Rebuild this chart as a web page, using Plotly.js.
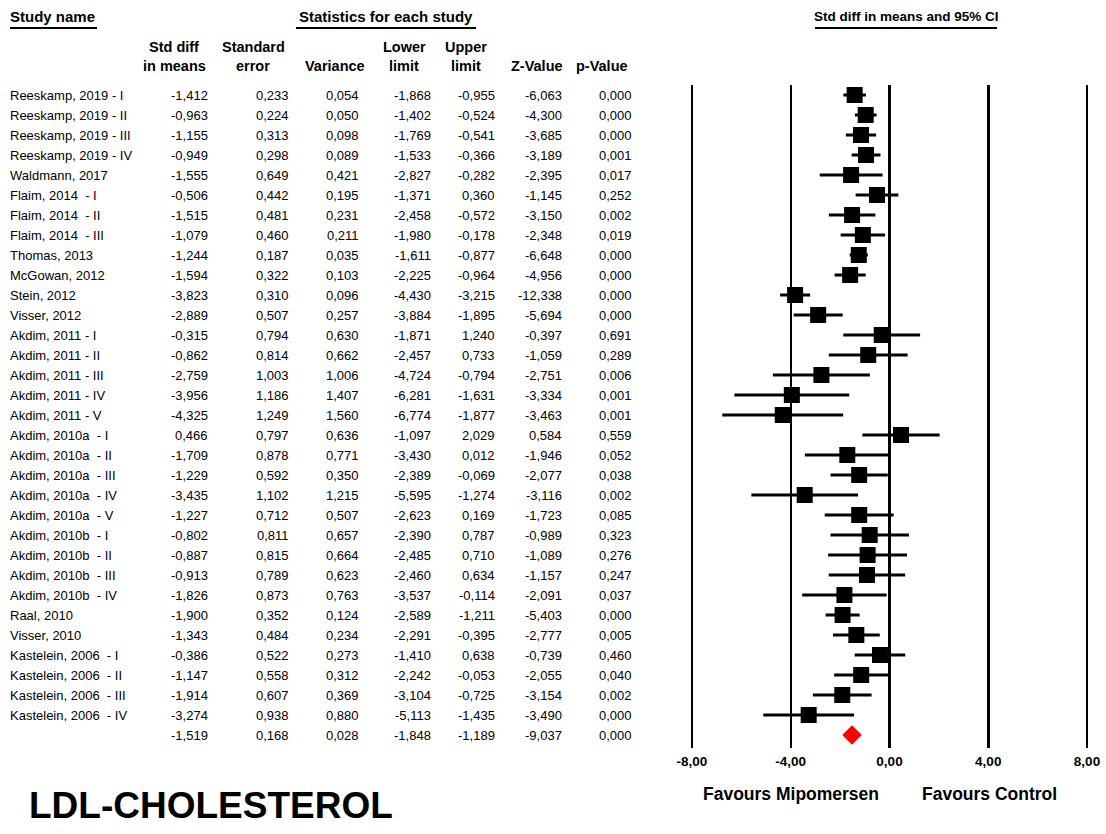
<!DOCTYPE html>
<html>
<head>
<meta charset="utf-8">
<script src="https://cdn.plot.ly/plotly-3.0.1.min.js"></script>
<style>html,body{margin:0;padding:0;background:#fff;}#chart{width:1106px;height:834px;}</style>
</head>
<body>
<div id="chart"></div>
<script>
// ---- data ----
const studyNames = [
  "Reeskamp, 2019 - I", "Reeskamp, 2019 - II", "Reeskamp, 2019 - III", "Reeskamp, 2019 - IV",
  "Waldmann, 2017", "Flaim, 2014\u00a0 - I", "Flaim, 2014\u00a0 - II", "Flaim, 2014\u00a0 - III",
  "Thomas, 2013", "McGowan, 2012", "Stein, 2012", "Visser, 2012",
  "Akdim, 2011 - I", "Akdim, 2011 - II", "Akdim, 2011 - III", "Akdim, 2011 - IV", "Akdim, 2011 - V",
  "Akdim, 2010a\u00a0 - I", "Akdim, 2010a\u00a0 - II", "Akdim, 2010a\u00a0 - III", "Akdim, 2010a\u00a0 - IV", "Akdim, 2010a\u00a0 - V",
  "Akdim, 2010b\u00a0 - I", "Akdim, 2010b\u00a0 - II", "Akdim, 2010b\u00a0 - III", "Akdim, 2010b\u00a0 - IV",
  "Raal, 2010", "Visser, 2010",
  "Kastelein, 2006\u00a0 - I", "Kastelein, 2006\u00a0 - II", "Kastelein, 2006\u00a0 - III", "Kastelein, 2006\u00a0 - IV"
];
const stdDiff = [-1.412,-0.963,-1.155,-0.949,-1.555,-0.506,-1.515,-1.079,-1.244,-1.594,-3.823,-2.889,
  -0.315,-0.862,-2.759,-3.956,-4.325,0.466,-1.709,-1.229,-3.435,-1.227,-0.802,-0.887,-0.913,-1.826,
  -1.900,-1.343,-0.386,-1.147,-1.914,-3.274];
const stdErr = [0.233,0.224,0.313,0.298,0.649,0.442,0.481,0.460,0.187,0.322,0.310,0.507,
  0.794,0.814,1.003,1.186,1.249,0.797,0.878,0.592,1.102,0.712,0.811,0.815,0.789,0.873,
  0.352,0.484,0.522,0.558,0.607,0.938];
const variance = [0.054,0.050,0.098,0.089,0.421,0.195,0.231,0.211,0.035,0.103,0.096,0.257,
  0.630,0.662,1.006,1.407,1.560,0.636,0.771,0.350,1.215,0.507,0.657,0.664,0.623,0.763,
  0.124,0.234,0.273,0.312,0.369,0.880];
const lowerLimit = [-1.868,-1.402,-1.769,-1.533,-2.827,-1.371,-2.458,-1.980,-1.611,-2.225,-4.430,-3.884,
  -1.871,-2.457,-4.724,-6.281,-6.774,-1.097,-3.430,-2.389,-5.595,-2.623,-2.390,-2.485,-2.460,-3.537,
  -2.589,-2.291,-1.410,-2.242,-3.104,-5.113];
const upperLimit = [-0.955,-0.524,-0.541,-0.366,-0.282,0.360,-0.572,-0.178,-0.877,-0.964,-3.215,-1.895,
  1.240,0.733,-0.794,-1.631,-1.877,2.029,0.012,-0.069,-1.274,0.169,0.787,0.710,0.634,-0.114,
  -1.211,-0.395,0.638,-0.053,-0.725,-1.435];
const zValue = [-6.063,-4.300,-3.685,-3.189,-2.395,-1.145,-3.150,-2.348,-6.648,-4.956,-12.338,-5.694,
  -0.397,-1.059,-2.751,-3.334,-3.463,0.584,-1.946,-2.077,-3.116,-1.723,-0.989,-1.089,-1.157,-2.091,
  -5.403,-2.777,-0.739,-2.055,-3.154,-3.490];
const pValue = [0.000,0.000,0.000,0.001,0.017,0.252,0.002,0.019,0.000,0.000,0.000,0.000,
  0.691,0.289,0.006,0.001,0.001,0.559,0.052,0.038,0.002,0.085,0.323,0.276,0.247,0.037,
  0.000,0.005,0.460,0.040,0.002,0.000];
// pooled (summary) row
const summary = {stdDiff:-1.519, stdErr:0.168, variance:0.028, lower:-1.848, upper:-1.189, z:-9.037, p:0.000};
const tickVals = [-8,-4,0,4,8];
const tickLabels = ["-8,00","-4,00","0,00","4,00","8,00"];

// ---- helpers ----
const fmt = v => v.toFixed(3).replace('.', ',');
const W = 1106, H = 834;
const px = x => x / W;          // pixel -> paper x
const py = y => 1 - y / H;      // pixel -> paper y
const FONT = 'Liberation Sans, Arial, sans-serif';
const n = studyNames.length;
const rows = studyNames.map((_, i) => i);
const sumRow = n;

const annotations = [];
const shapes = [];
function txt(text, x, y, opts) {
  annotations.push(Object.assign({
    text: text, x: x, y: y, xref: 'paper', yref: 'paper', showarrow: false,
    xanchor: 'left', yanchor: 'middle',
    font: {family: FONT, size: 13, color: '#000'}
  }, opts || {}));
}
const boldFont = s => ({family: FONT, size: s, color: '#000', weight: 'bold'});

// top headers
txt('Study name', px(8), py(17), {font: boldFont(15)});
txt('Statistics for each study', px(386), py(17), {xanchor: 'center', font: boldFont(15)});
txt('Std diff in means and 95% CI', px(906), py(17), {xanchor: 'center', font: boldFont(13.5)});
[[10,97],[296,476],[815,997]].forEach(s => shapes.push({
  type: 'line', xref: 'paper', yref: 'paper', x0: px(s[0]), x1: px(s[1]), y0: py(28), y1: py(28),
  line: {color: '#000', width: 2}
}));

// column headers
const colRight = [210, 291, 361, 433, 497, 564, 634];
const colHead = [['Std diff','in means'],['Standard','error'],['','Variance'],['Lower','limit'],['Upper','limit'],['','Z-Value'],['','p-Value']];
const colCenter = [174, 253, 335, 404, 466, 537, 602];
colHead.forEach((h, j) => {
  if (h[0]) txt(h[0], px(colCenter[j]), py(47), {xanchor: 'center', font: boldFont(14.5)});
  txt(h[1], px(colCenter[j]), py(66), {xanchor: 'center', font: boldFont(14.5)});
});

// table rows (aligned to y axis rows)
function rowTxt(text, xpix, row, anchor) {
  annotations.push({
    text: text, x: px(xpix), y: row, xref: 'paper', yref: 'y', showarrow: false,
    xanchor: anchor, yanchor: 'middle', font: {family: FONT, size: 13, color: '#000'}
  });
}
rows.forEach(i => {
  rowTxt(studyNames[i], 8, i, 'left');
  const vals = [stdDiff[i], stdErr[i], variance[i], lowerLimit[i], upperLimit[i], zValue[i], pValue[i]];
  vals.forEach((v, j) => rowTxt(fmt(v), colRight[j], i, 'right'));
});
[summary.stdDiff, summary.stdErr, summary.variance, summary.lower, summary.upper, summary.z, summary.p]
  .forEach((v, j) => rowTxt(fmt(v), colRight[j], sumRow, 'right'));

// bottom labels
txt('Favours Mipomersen', px(791), py(794), {xanchor: 'center', font: boldFont(17.5)});
txt('Favours Control', px(989), py(794), {xanchor: 'center', font: boldFont(17.5)});
txt('LDL-CHOLESTEROL', px(27), py(805), {font: boldFont(37)});

// ---- traces ----
const studyTrace = {
  type: 'scatter', mode: 'markers',
  x: stdDiff, y: rows,
  marker: {symbol: 'square', size: 16, color: '#000'},
  error_x: {
    type: 'data', symmetric: false,
    array: upperLimit.map((u, i) => u - stdDiff[i]),
    arrayminus: lowerLimit.map((l, i) => stdDiff[i] - l),
    color: '#000', thickness: 3, width: 0
  },
  hoverinfo: 'skip', showlegend: false
};
const summaryTrace = {
  type: 'scatter', mode: 'markers',
  x: [summary.stdDiff], y: [sumRow],
  marker: {symbol: 'diamond', size: 15, color: '#ff0000'},
  hoverinfo: 'skip', showlegend: false
};

// x range padded slightly so the edge gridlines at -8 and 8 are drawn
const pad = 0.1;
const x0pix = 692, x1pix = 1087, unit = (x1pix - x0pix) / 16;
const layout = {
  width: W, height: H,
  margin: {l: 0, r: 0, t: 0, b: 0},
  paper_bgcolor: '#fff', plot_bgcolor: 'rgba(0,0,0,0)',
  showlegend: false,
  xaxis: {
    domain: [px(x0pix - pad * unit), px(x1pix + pad * unit)],
    range: [-8 - pad, 8 + pad],
    tickmode: 'array', tickvals: tickVals, ticktext: tickLabels,
    showgrid: true, gridcolor: '#000', gridwidth: 2.5,
    zeroline: false, showline: false, ticks: '',
    ticklabelstandoff: 3,
    tickfont: boldFont(13.5),
    fixedrange: true
  },
  yaxis: {
    domain: [py(748), py(85)],
    range: [n + 0.65, -0.5],
    showgrid: false, zeroline: false, showline: false, showticklabels: false, ticks: '',
    fixedrange: true
  },
  annotations: annotations,
  shapes: shapes,
  font: {family: FONT, color: '#000'}
};

Plotly.newPlot('chart', [studyTrace, summaryTrace], layout, {displayModeBar: false, staticPlot: true});
</script>
</body>
</html>
